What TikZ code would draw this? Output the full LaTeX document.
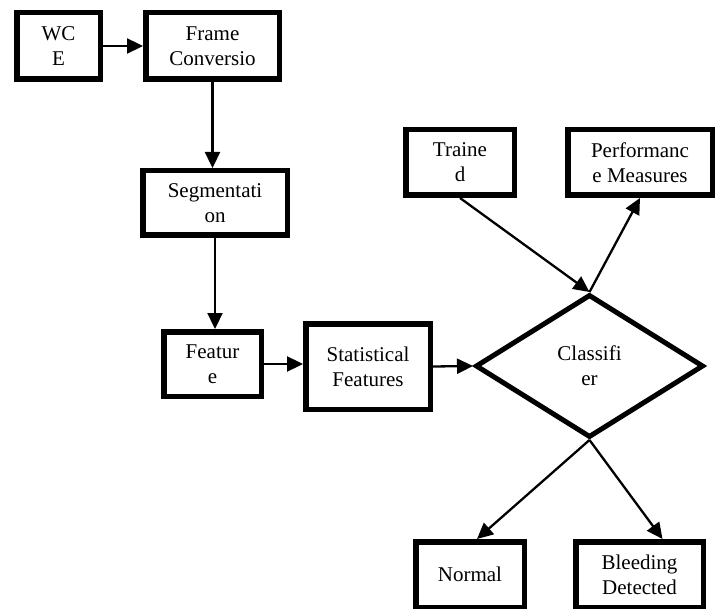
\documentclass[tikz,border=0pt]{standalone}
\usepackage{fontspec}
\setmainfont{Liberation Serif}
\usetikzlibrary{shapes.geometric,arrows.meta,calc}
\begin{document}
\begin{tikzpicture}[x=1pt,y=-1pt,
  box/.style={draw,line width=5.5pt,rectangle,align=center,inner sep=0pt,
    font=\fontsize{21}{25}\selectfont},
  dia/.style={draw,line width=5pt,diamond,align=center,inner sep=0pt,
    minimum width=228pt,minimum height=143pt,font=\fontsize{21}{25}\selectfont},
  arr/.style={line width=2.3pt,-{Triangle[length=16pt,width=15pt]}}]
\useasboundingbox (0,0) rectangle (722,609);
\node[box,minimum width=83.5pt,minimum height=66.5pt] (wce) at (58.5,46) {WC\\E};
\node[box,minimum width=133.5pt,minimum height=66.5pt] (frame) at (212.5,46) {Frame\\Conversio};
\node[box,minimum width=144.5pt,minimum height=64.5pt] (seg) at (215,203) {Segmentati\\on};
\node[box,minimum width=97.5pt,minimum height=64.5pt] (feat) at (212.5,364) {Featur\\e};
\node[box,minimum width=124.5pt,minimum height=85.5pt] (stat) at (368,366.5) {Statistical\\Features};
\node[box,minimum width=108.5pt,minimum height=65.5pt] (trained) at (460,162.5) {Traine\\d};
\node[box,minimum width=144.5pt,minimum height=65.5pt] (perf) at (640,162.5) {Performanc\\e Measures};
\node[dia] (cls) at (589.5,366) {Classifi\\er};
\node[box,minimum width=108.5pt,minimum height=65.5pt] (normal) at (470,574.5) {Normal};
\node[box,minimum width=127.5pt,minimum height=65.5pt] (bleed) at (639.5,574.5) {Bleeding\\Detected};
\draw[arr] (wce.east) -- (frame.west);
\draw[arr] (frame.south) -- (frame.south |- seg.north);
\draw[arr] (seg.south) -- (seg.south |- feat.north);
\draw[arr] (feat.east) -- (feat.east -| stat.west);
\draw[arr] (stat.east) -- (cls.west);
\draw[arr] (trained.south) -- (cls.north);
\draw[arr] (cls.north) -- (perf.south);
\draw[arr] (cls.south) -- ($(normal.north)+(7,0)$);
\draw[arr] (cls.south) -- ($(bleed.north)+(23,0)$);
\end{tikzpicture}
\end{document}
